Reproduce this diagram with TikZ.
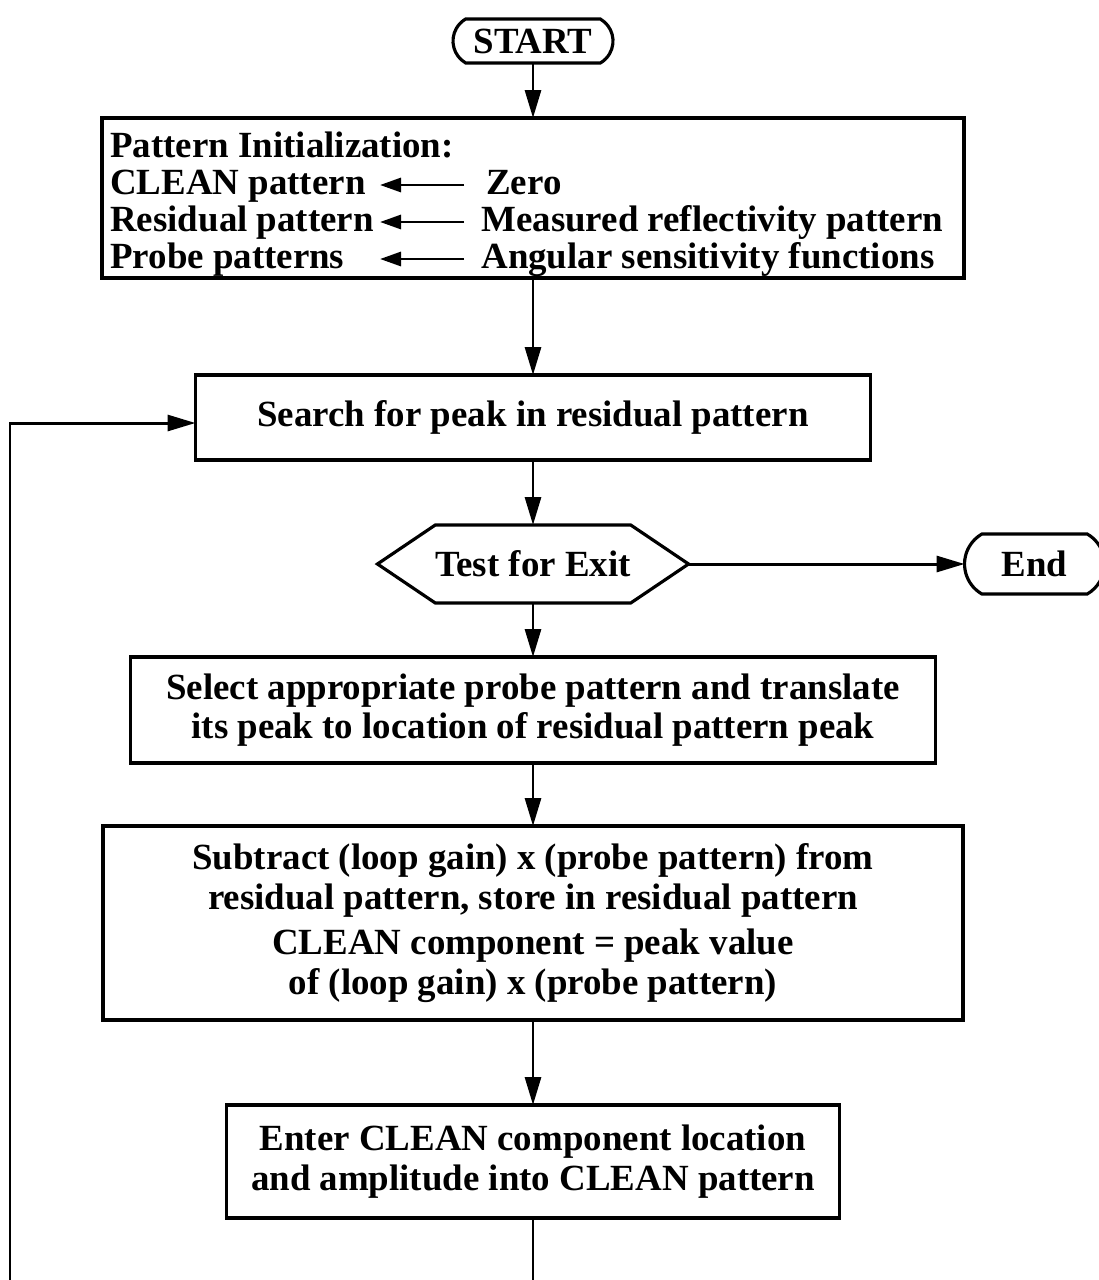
\documentclass[tikz,border=0pt]{standalone}
\usepackage{fontspec}
\setmainfont{Liberation Serif}
\usetikzlibrary{arrows.meta,positioning,calc,shapes.misc,shapes.symbols}
\newcommand\flowfont{\fontsize{21}{22.5}\selectfont\bfseries}
\tikzset{
  procbox/.style={draw=black,line width=1.8pt,align=center,font=\flowfont,inner sep=0pt,outer sep=0pt},
  termbox/.style={draw=black,line width=1.8pt,rounded rectangle,rounded rectangle arc length=120,font=\flowfont,inner sep=0pt,outer sep=0pt},
  testbox/.style={draw=black,line width=1.8pt,signal,signal from=nowhere,signal to=west and east,signal pointer angle=68,font=\flowfont,inner sep=0pt,outer sep=0pt},
  inittext/.style={font=\flowfont,inner sep=0pt,anchor=base west},
  line/.style={-{Triangle[length=0.56cm,width=0.32cm]},line width=1.7pt},
  smallline/.style={-{Triangle[length=0.42cm,width=0.28cm]},line width=1.7pt}
}

\begin{document}
\begin{tikzpicture}
  \useasboundingbox (0,0) rectangle (21.96,-25.6);
  \node[termbox,minimum width=3.2cm,minimum height=0.88cm] (start) at (10.66,-0.82) {START};
  \node[procbox,minimum width=17.24cm,minimum height=3.2cm,below=1.1cm of start] (init) {};
  % initialization rows
  \node[inittext] (initttl) at ($(init.north west)+(0.16,-0.78)$) {Pattern Initialization:};
  \node[inittext] (cleanpat) at ($(init.north west)+(0.16,-1.52)$) {CLEAN pattern};
  \node[inittext] (residpat) at ($(init.north west)+(0.16,-2.26)$) {Residual pattern};
  \node[inittext] (probepat) at ($(init.north west)+(0.16,-3.0)$) {Probe patterns};
  \node[inittext] (zero) at ($(init.north west)+(7.68,-1.52)$) {Zero};
  \node[inittext] (measured) at ($(init.north west)+(7.58,-2.26)$) {Measured reflectivity pattern};
  \node[inittext] (angular) at ($(init.north west)+(7.58,-3.0)$) {Angular sensitivity functions};
  \coordinate (arrtail) at ($(init.north west)+(7.24,0)$);
  \coordinate (arrtip) at ($(init.north west)+(5.56,0)$);
  \draw[smallline] ([yshift=0.18cm]zero.base -| arrtail) -- ([yshift=0.18cm]zero.base -| arrtip);
  \draw[smallline] ([yshift=0.18cm]measured.base -| arrtail) -- ([yshift=0.18cm]measured.base -| arrtip);
  \draw[smallline] ([yshift=0.18cm]angular.base -| arrtail) -- ([yshift=0.18cm]angular.base -| arrtip);
  % main flow
  \node[procbox,minimum width=13.5cm,minimum height=1.7cm,below=1.94cm of init] (search) {Search for peak in residual pattern};
  \node[testbox,minimum width=5.96cm,minimum height=1.56cm,below=1.3cm of search] (test) {Test for Exit};
  \node[termbox,minimum width=2.8cm,minimum height=1.2cm,right=5.52cm of test] (end) {End};
  \node[procbox,minimum width=16.1cm,minimum height=2.12cm,below=1.08cm of test] (select) {Select appropriate probe pattern and translate\\its peak to location of residual pattern peak};
  \node[procbox,minimum width=17.2cm,minimum height=3.88cm,below=1.26cm of select] (subtract) {Subtract (loop gain) x (probe pattern) from\\residual pattern, store in residual pattern\\[0.12cm]CLEAN component = peak value\\of (loop gain) x (probe pattern)};
  \node[procbox,minimum width=12.26cm,minimum height=2.26cm,below=1.7cm of subtract] (enter) {Enter CLEAN component location\\and amplitude into CLEAN pattern};
  \draw[line] (start.south) -- (init.north);
  \draw[line] (init.south) -- (search.north);
  \draw[line] (search.south) -- (test.north);
  \draw[line] (test.east) -- (end.west);
  \draw[line] (test.south) -- (select.north);
  \draw[line] (select.south) -- (subtract.north);
  \draw[line] (subtract.south) -- (enter.north);
  % loop back
  \coordinate (loopbl) at (0.2,-25.7);
  \draw[line] (enter.south) -- (enter.south |- loopbl) -- (loopbl) |- ([yshift=-0.11cm]search.west);
\end{tikzpicture}
\end{document}
